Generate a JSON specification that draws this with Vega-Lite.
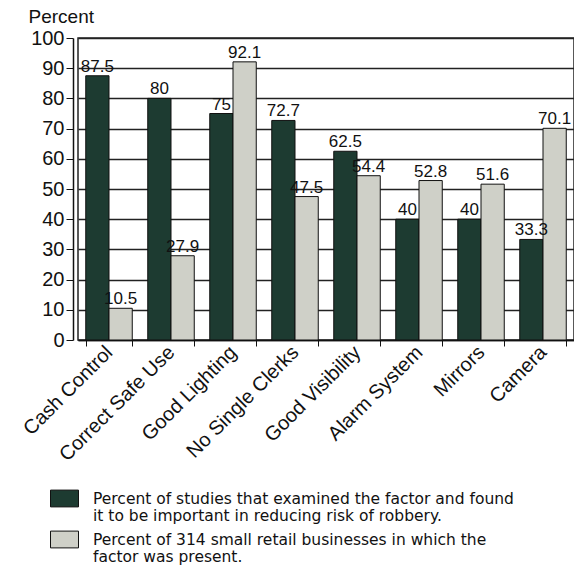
{
  "$schema": "https://vega.github.io/schema/vega-lite/v6.json",
  "width": 496,
  "height": 302,
  "autosize": "none",
  "padding": {"left": 78, "top": 38, "right": 0, "bottom": 227},
  "background": "white",
  "config": {
    "font": "Liberation Sans",
    "view": {"stroke": "#222", "strokeWidth": 1.5},
    "axis": {"labelColor": "#111", "titleColor": "#111", "domainColor": "#111", "tickColor": "#111"}
  },
  "data": {
    "values": [
      {"factor": "Cash Control", "series": "studies", "value": 87.5},
      {"factor": "Cash Control", "series": "businesses", "value": 10.5},
      {"factor": "Correct Safe Use", "series": "studies", "value": 80},
      {"factor": "Correct Safe Use", "series": "businesses", "value": 27.9},
      {"factor": "Good Lighting", "series": "studies", "value": 75},
      {"factor": "Good Lighting", "series": "businesses", "value": 92.1},
      {"factor": "No Single Clerks", "series": "studies", "value": 72.7},
      {"factor": "No Single Clerks", "series": "businesses", "value": 47.5},
      {"factor": "Good Visibility", "series": "studies", "value": 62.5},
      {"factor": "Good Visibility", "series": "businesses", "value": 54.4},
      {"factor": "Alarm System", "series": "studies", "value": 40},
      {"factor": "Alarm System", "series": "businesses", "value": 52.8},
      {"factor": "Mirrors", "series": "studies", "value": 40},
      {"factor": "Mirrors", "series": "businesses", "value": 51.6},
      {"factor": "Camera", "series": "studies", "value": 33.3},
      {"factor": "Camera", "series": "businesses", "value": 70.1}
    ]
  },
  "encoding": {
    "x": {
      "field": "factor",
      "type": "nominal",
      "sort": ["Cash Control", "Correct Safe Use", "Good Lighting", "No Single Clerks", "Good Visibility", "Alarm System", "Mirrors", "Camera"],
      "scale": {"paddingInner": 0.25, "paddingOuter": 0.125},
      "axis": {
        "title": null,
        "labelAngle": -45,
        "labelAlign": "right",
        "labelBaseline": "middle",
        "labelFontSize": 20,
        "labelPadding": 3,
        "tickBand": "extent",
        "tickSize": 6,
        "domainWidth": 1.5
      }
    },
    "xOffset": {"field": "series", "type": "nominal", "sort": ["studies", "businesses"]},
    "y": {
      "field": "value",
      "type": "quantitative",
      "scale": {"domain": [0, 100]},
      "axis": {
        "values": [0, 10, 20, 30, 40, 50, 60, 70, 80, 90, 100],
        "title": "Percent",
        "titleAngle": 0,
        "titleAlign": "left",
        "titleBaseline": "alphabetic",
        "titleX": -45,
        "titleY": -16,
        "titleFontSize": 19,
        "titleFontWeight": "normal",
        "labelFontSize": 20,
        "labelPadding": 2,
        "tickSize": 7,
        "offset": 5,
        "domainWidth": 1.5,
        "grid": true,
        "gridColor": "#222",
        "gridWidth": 1.5
      }
    }
  },
  "layer": [
    {
      "mark": {"type": "bar", "stroke": "#111", "strokeWidth": 1},
      "encoding": {
        "color": {
          "field": "series",
          "type": "nominal",
          "scale": {"domain": ["studies", "businesses"], "range": ["#1d3b31", "#cfd0c8"]},
          "legend": {
            "title": null,
            "orient": "none",
            "legendX": -28,
            "legendY": 446,
            "direction": "vertical",
            "symbolType": "M-1,-0.6H1V0.6H-1Z",
            "symbolSize": 784,
            "symbolStrokeColor": "#111",
            "symbolStrokeWidth": 1,
            "labelFont": "DejaVu Sans",
            "labelFontSize": 15.5,
            "labelColor": "#111",
            "labelOffset": 14,
            "labelLimit": 600,
            "rowPadding": -2,
            "labelExpr": "datum.label == 'studies' ? ['Percent of studies that examined the factor and found', 'it to be important in reducing risk of robbery.'] : ['Percent of 314 small retail businesses in which the', 'factor was present.']"
          }
        }
      }
    },
    {
      "mark": {"type": "text", "dy": -9, "fontSize": 17, "color": "#111"},
      "encoding": {"text": {"field": "value", "type": "quantitative", "format": "~g"}}
    }
  ]
}
